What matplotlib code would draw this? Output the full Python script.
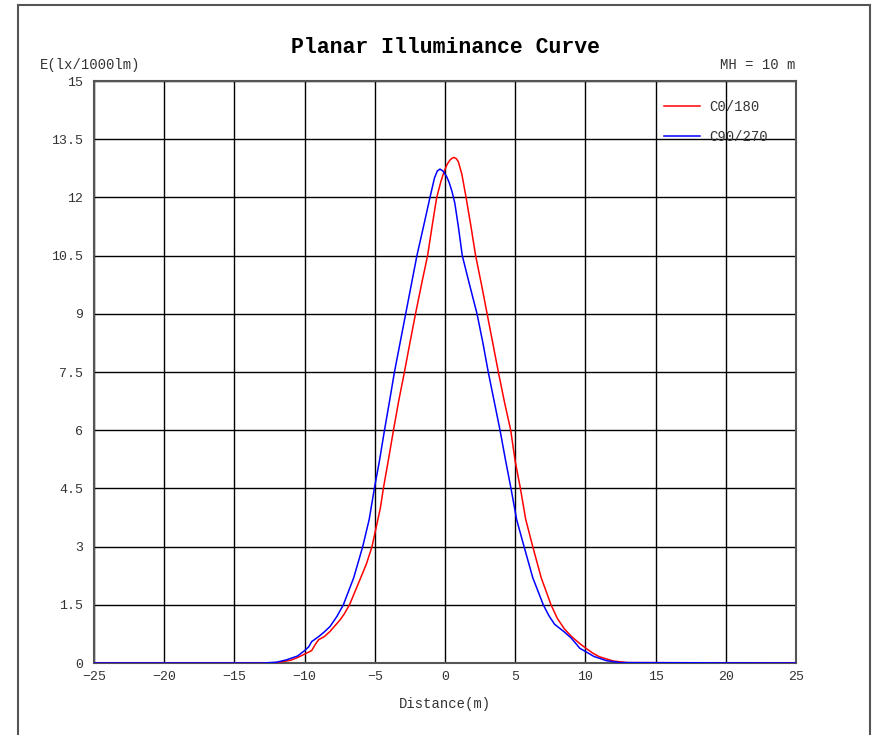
import matplotlib.pyplot as plt
from matplotlib.patches import Rectangle

# --- data ---
x_c0 = [-25, -13, -12, -11, -10.5, -10, -9.5, -9.2, -9.0, -8.6, -8.2, -7.5, -7.2,
        -6.8, -6.4, -6.0, -5.6, -5.2, -4.9, -4.6, -4.39, -4.0, -3.67, -3.3,
        -2.89, -2.5, -2.1, -1.65, -1.24, -0.9, -0.59, -0.3, -0.07, 0.15, 0.35,
        0.5, 0.64, 0.8, 0.95, 1.2, 1.5, 1.85, 2.18, 2.6, 3.0, 3.4, 3.8, 4.25,
        4.68, 5.0, 5.37, 5.75, 6.25, 6.85, 7.55, 8.0, 8.5, 9.02, 9.6, 10.04,
        10.5, 11.0, 12.0, 13.0, 25]
e_c0 = [0, 0.0, 0.01, 0.07, 0.14, 0.23, 0.32, 0.5, 0.6, 0.68, 0.81, 1.1, 1.25,
        1.5, 1.85, 2.2, 2.55, 3.0, 3.5, 4.0, 4.5, 5.3, 6.0, 6.75,
        7.5, 8.25, 9.0, 9.8, 10.5, 11.3, 12.0, 12.4, 12.66, 12.85, 12.96,
        13.01, 13.03, 13.0, 12.92, 12.6, 12.0, 11.25, 10.5, 9.75, 9.0, 8.25, 7.5, 6.7,
        6.0, 5.2, 4.5, 3.7, 3.0, 2.2, 1.5, 1.15, 0.88, 0.68, 0.5, 0.38,
        0.26, 0.16, 0.05, 0.01, 0]

x_c90 = [-25, -13, -12, -11.3, -10.5, -10, -9.7, -9.5, -9.0, -8.6, -8.19, -7.7,
         -7.24, -6.5, -5.86, -5.4, -5.03, -4.65, -4.31, -3.95, -3.6, -3.2,
         -2.8, -2.4, -2.0, -1.5, -1.07, -0.75, -0.55, -0.36, -0.15, 0.1,
         0.3, 0.5, 0.7, 0.95, 1.23, 1.75, 2.28, 2.7, 3.08, 3.5, 3.92, 4.3, 4.7,
         5.1, 5.63, 6.25, 7.0, 7.4, 7.8, 8.5, 9.0, 9.6, 10.04, 10.6, 11.5,
         12.5, 25]
e_c90 = [0, 0.0, 0.02, 0.08, 0.18, 0.32, 0.42, 0.55, 0.68, 0.8, 0.94, 1.2,
         1.5, 2.2, 3.0, 3.7, 4.5, 5.25, 6.0, 6.75, 7.5, 8.25,
         9.0, 9.75, 10.5, 11.3, 12.0, 12.5, 12.68, 12.73, 12.68, 12.55,
         12.38, 12.15, 11.85, 11.25, 10.5, 9.75, 9.0, 8.25, 7.5, 6.75, 6.0, 5.25, 4.5,
         3.7, 3.0, 2.2, 1.5, 1.22, 1.0, 0.8, 0.64, 0.38, 0.29, 0.17, 0.06,
         0.01, 0]

x_ticks = [-25, -20, -15, -10, -5, 0, 5, 10, 15, 20, 25]
y_ticks = [0, 1.5, 3, 4.5, 6, 7.5, 9, 10.5, 12, 13.5, 15]
y_labels = ['0', '1.5', '3', '4.5', '6', '7.5', '9', '10.5', '12', '13.5', '15']

mono = 'Liberation Mono'
txt_col = '#333333'

fig = plt.figure(figsize=(8.73, 7.35), dpi=100)
ax = fig.add_axes([94 / 873, 72 / 735, 702 / 873, 582 / 735])

# outer page frame
fig.patches.append(Rectangle((18 / 873, -0.05), 852 / 873, 1.043, transform=fig.transFigure,
                             fill=False, edgecolor='#555555', linewidth=1.5))

ax.plot(x_c0, e_c0, color='#ff0000', linewidth=1.1, label='C0/180', zorder=3)
ax.plot(x_c90, e_c90, color='#0000ff', linewidth=1.1, label='C90/270', zorder=3)

ax.set_xlim(-25, 25)
ax.set_ylim(0, 15)
ax.set_xticks(x_ticks)
ax.set_yticks(y_ticks)
ax.set_yticklabels(y_labels)
ax.grid(True, color='black', linewidth=1.0)
ax.tick_params(length=0, labelsize=9.5, labelcolor=txt_col)
ax.tick_params(axis='y', pad=8)
ax.tick_params(axis='x', pad=6)
for lbl in ax.get_xticklabels() + ax.get_yticklabels():
    lbl.set_family(mono)
for sp in ax.spines.values():
    sp.set_color('#555555')
    sp.set_linewidth(1.5)

ax.set_xlabel('Distance(m)', family=mono, fontsize=10, color=txt_col, labelpad=10)
ax.set_title('Planar Illuminance Curve', family=mono, fontsize=15.5, fontweight='bold',
             pad=20)
fig.text(40 / 873, 1 - 65 / 735, 'E(lx/1000lm)', family=mono, fontsize=10,
         color=txt_col, ha='left', va='center')
fig.text(795 / 873, 1 - 65 / 735, 'MH = 10 m', family=mono, fontsize=10,
         color=txt_col, ha='right', va='center')

leg = ax.legend(loc='upper left', bbox_to_anchor=(0.812, 0.968), frameon=False,
                borderpad=0, borderaxespad=0, handlelength=2.6, handletextpad=0.65,
                labelspacing=1.15, prop={'family': mono, 'size': 10})
for t in leg.get_texts():
    t.set_color(txt_col)

fig.savefig('out.png', dpi=100)
